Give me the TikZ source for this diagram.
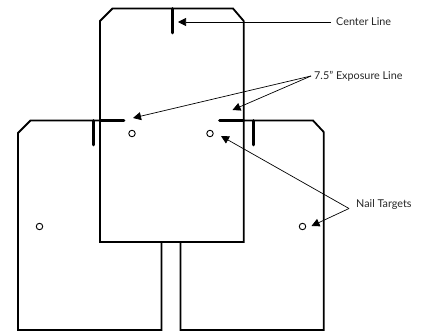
\documentclass[tikz,border=0pt]{standalone}
\usepackage{fontspec}
\setmainfont{Lato}
\usetikzlibrary{arrows.meta,positioning}
\begin{document}
\begin{tikzpicture}[
 x=1pt,y=-1pt,
 shingle/.style={line width=1.8pt,fill=white},
 mark line/.style={line width=2.6pt,line cap=round},
 hole/.style={circle,draw,line width=0.9pt,inner sep=0pt,minimum size=6.5pt,fill=white},
 lbl/.style={font=\fontsize{10.8}{12}\selectfont,text=black!85,inner sep=0pt,anchor=west},
 arr/.style={-{Triangle[length=8pt,width=8pt]},line width=0.7pt}
]
\useasboundingbox (0,0) rectangle (425,331);
% lower shingles
\draw[shingle] (18,330) -- (18,133) -- (30.5,120.5) -- (100,120.5) -- (161.5,120.5) -- (161.5,330) -- cycle;
\draw[shingle] (180.5,330) -- (180.5,120.5) -- (313,120.5) -- (323.7,132) -- (323.7,330) -- cycle;
\draw[mark line] (93.5,120.5) -- (93.5,145);
\draw[mark line] (253.5,120.5) -- (253.5,145);
% top shingle
\draw[shingle] (100,242) -- (100,21) -- (112.5,8.5) -- (233,8.5) -- (243.7,21) -- (243.7,242) -- cycle;
\draw[mark line] (172.5,8.5) -- (172.5,33);
\draw[mark line] (100,120.5) -- (124,120.5);
\draw[mark line] (219.5,120.5) -- (243.7,120.5);
% nail holes
\node[hole] (holeA) at (132,133.5) {};
\node[hole] (holeB) at (210,133.5) {};
\node[hole] (holeC) at (39.5,226.5) {};
\node[hole] (holeD) at (302.5,226.5) {};
% labels
\node[lbl] (center) at (336,22) {Center Line};
\node[lbl] (expo) at (314,76) {7.5" Exposure Line};
\node[lbl] (nail) at (356,205) {Nail Targets};
\coordinate (centerEnd) at (331,22);
\coordinate (expoEnd) at (311,76);
\coordinate (nailEnd) at (349,208.5);
\coordinate (tipCenter) at (178,22);
\coordinate (tipExpoA) at (133,118);
\coordinate (tipExpoB) at (232.5,110);
\coordinate (tipNailA) at (221,136);
\coordinate (tipNailB) at (311.5,226);
\draw[arr] (centerEnd) -- (tipCenter);
\draw[arr] (expoEnd) -- (tipExpoA);
\draw[arr] (expoEnd) -- (tipExpoB);
\draw[arr] (nailEnd) -- (tipNailA);
\draw[arr] (nailEnd) -- (tipNailB);
\end{tikzpicture}
\end{document}
